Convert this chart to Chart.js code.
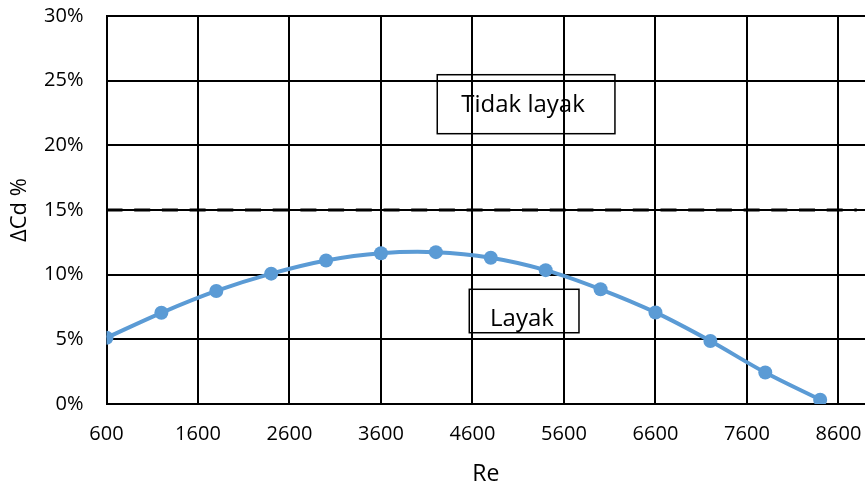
<!DOCTYPE html>
<html>
<head>
<meta charset="utf-8">
<script src="https://cdn.jsdelivr.net/npm/chart.js@4/dist/chart.umd.min.js"></script>
<style>
  html, body { margin: 0; padding: 0; background: #fff; overflow: hidden; }
  /* the plot area runs on past the right edge of the window */
  #wrap { width: 872px; height: 486px; }
</style>
</head>
<body>
<div id="wrap"><canvas id="c" width="872" height="486"></canvas></div>
<script>
// Reynolds number of each measurement
const reValues = [600, 1200, 1800, 2400, 3000, 3600, 4200, 4800, 5400, 6000, 6600, 7200, 7800, 8400];
// Change in drag coefficient, percent
const deltaCd = [5.12, 7.05, 8.74, 10.08, 11.10, 11.66, 11.74, 11.31, 10.35, 8.87, 7.08, 4.87, 2.43, 0.33];
// Feasibility limit (percent) and the Re span it is drawn over
const limitValue = 15;
const limitRe = [600, 8800];
// Axis ticks
const xTicks = [600, 1600, 2600, 3600, 4600, 5600, 6600, 7600, 8600];
const yTicks = [0, 5, 10, 15, 20, 25, 30];
// Region labels: box corners and text baseline in data units
const regionLabels = [
  { text: 'Tidak layak', x0: 4215, x1: 6157, y0: 20.9, y1: 25.46, tx: 5152, ty: 22.6 },
  { text: 'Layak',       x0: 4565, x1: 5764, y0: 5.51, y1: 8.87,  tx: 5141, ty: 6.02 }
];

const FONT = "'Open Sans', 'DejaVu Sans', sans-serif";

const regionLabelPlugin = {
  id: 'regionLabels',
  afterDatasetsDraw(chart) {
    const { ctx, scales: { x, y } } = chart;
    ctx.save();
    ctx.strokeStyle = '#000';
    ctx.lineWidth = 1.5;
    ctx.fillStyle = '#000';
    ctx.font = '24px ' + FONT;
    ctx.textAlign = 'center';
    ctx.textBaseline = 'alphabetic';
    regionLabels.forEach(r => {
      const l = x.getPixelForValue(r.x0), rr = x.getPixelForValue(r.x1);
      const t = y.getPixelForValue(r.y1), b = y.getPixelForValue(r.y0);
      ctx.strokeRect(l, t, rr - l, b - t);
      ctx.fillText(r.text, x.getPixelForValue(r.tx), y.getPixelForValue(r.ty));
    });
    ctx.restore();
  }
};

// Fixed axis box sizes, without extra room for overhanging tick labels
function fixBox(s, w, h) {
  if (w !== null) s.width = w;
  if (h !== null) s.height = h;
  s.paddingLeft = 0; s.paddingRight = 0; s.paddingTop = 0; s.paddingBottom = 0;
}

new Chart(document.getElementById('c'), {
  type: 'scatter',
  data: {
    datasets: [
      {
        label: 'ΔCd',
        data: reValues.map((v, i) => ({ x: v, y: deltaCd[i] })),
        showLine: true,
        borderColor: '#5B9BD5',
        backgroundColor: '#5B9BD5',
        borderWidth: 4,
        pointRadius: 7,
        pointHoverRadius: 7,
        pointBorderWidth: 0,
        tension: 0.35,
        order: 1
      },
      {
        label: 'Batas',
        data: limitRe.map(v => ({ x: v, y: limitValue })),
        showLine: true,
        borderColor: '#000',
        borderWidth: 3,
        borderDash: [16, 11.7],
        pointRadius: 0,
        order: 2
      }
    ]
  },
  options: {
    responsive: false,
    animation: false,
    events: [],
    layout: { padding: { top: 16, right: 0, left: 0, bottom: 0 } },
    plugins: { legend: { display: false }, tooltip: { enabled: false } },
    scales: {
      x: {
        type: 'linear',
        min: 600,
        max: 8890,
        afterFit(s) { fixBox(s, null, 82); },
        afterBuildTicks(s) { s.ticks = xTicks.map(v => ({ value: v })); },
        ticks: {
          color: '#000',
          font: { family: FONT, size: 20 },
          padding: 18,
          maxRotation: 0,
          autoSkip: false,
          callback: v => String(v)
        },
        grid: { color: '#000', lineWidth: 2, drawTicks: false },
        border: { display: true, color: '#000', width: 2 },
        title: {
          display: true,
          text: 'Re',
          color: '#000',
          font: { family: FONT, size: 23, lineHeight: 1 },
          padding: { top: 0, bottom: 0 }
        }
      },
      y: {
        min: 0,
        max: 30,
        afterFit(s) { fixBox(s, 106.5, null); },
        afterBuildTicks(s) { s.ticks = yTicks.map(v => ({ value: v })); },
        ticks: {
          color: '#000',
          font: { family: FONT, size: 20 },
          padding: 23,
          callback: v => v + '%'
        },
        grid: { color: '#000', lineWidth: 2, drawTicks: false },
        border: { display: true, color: '#000', width: 2 },
        title: {
          display: true,
          text: 'ΔCd %',
          color: '#000',
          font: { family: FONT, size: 22 },
          padding: { top: 7, bottom: 0 }
        }
      }
    }
  },
  plugins: [regionLabelPlugin]
});
</script>
</body>
</html>
